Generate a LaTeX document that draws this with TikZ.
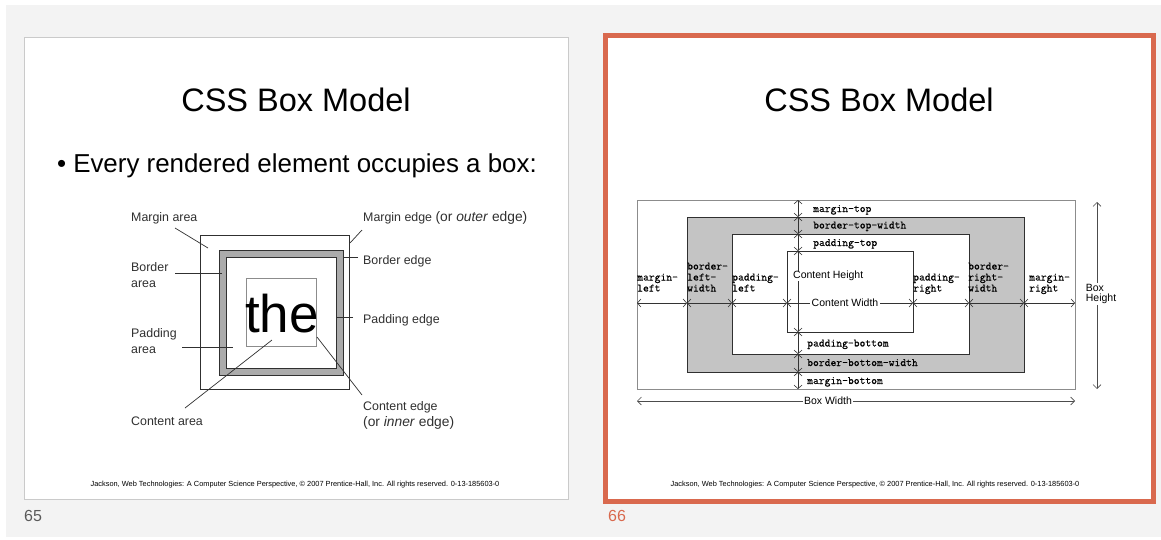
\documentclass[tikz,border=0pt]{standalone}
\usepackage{fontspec}
\setmainfont{Liberation Sans}
\newfontfamily\monofont[FakeBold=0.4]{Latin Modern Mono}
\usetikzlibrary{arrows.meta}

\definecolor{panel}{HTML}{F3F3F3}
\definecolor{slideedge}{HTML}{CACACA}
\definecolor{accent}{HTML}{D9694E}
\definecolor{pagenum}{HTML}{5A5A5A}
\definecolor{ringgray}{HTML}{ABABAB}
\definecolor{bandgray}{HTML}{C4C4C4}
\definecolor{ink}{HTML}{303030}

\newcommand{\bigparen}[1]{{\fontsize{13.8}{16}\selectfont #1}}

\begin{document}
\begin{tikzpicture}[x=1pt,y=-1pt,
  title/.style={font=\fontsize{32.5}{39}\selectfont, inner sep=0},
  footer/.style={font=\fontsize{7.4}{8}\selectfont, inner sep=0},
  pagelabel/.style={font=\fontsize{16}{18}\selectfont, anchor=west, inner sep=0},
  lbl/.style={font=\fontsize{12.4}{16}\selectfont, inner sep=0, anchor=base west, text=ink},
  lbltwo/.style={font=\fontsize{12.4}{16}\selectfont, inner sep=0, anchor=north west, align=left, text=ink},
  leader/.style={draw=ink, line width=0.7pt},
  mono/.style={font=\monofont\fontsize{11.3}{11}\selectfont, inner sep=0, anchor=base west},
  monostack/.style={font=\monofont\fontsize{11.3}{11}\selectfont, inner sep=0, anchor=north west, align=left},
  dimtext/.style={font=\fontsize{10.5}{10.5}\selectfont, fill=white, inner sep=1.5pt},
  dim/.style={draw=black!80, line width=0.6pt,
    {Straight Barb[length=3.5pt,width=8pt]}-{Straight Barb[length=3.5pt,width=8pt]}},
  dimlong/.style={draw=black!70, line width=0.6pt,
    {Straight Barb[length=4pt,width=8pt]}-{Straight Barb[length=4pt,width=8pt]}},
]
\useasboundingbox (0,0) rectangle (1161,539);
\fill[white] (0,0) rectangle (1161,539);
\fill[panel] (6,5) rectangle (1161,537);

% ---------------- slide 65 ----------------
\draw[draw=slideedge, fill=white, line width=1pt] (24.5,37.5) rectangle (568.5,499.5);
\node[title] (titleA) at (296,100) {CSS Box Model};
\node[font=\fontsize{25.9}{30}\selectfont, anchor=west, inner sep=0] (bullet) at (57,166)
  {\textbullet\hspace{7pt}Every rendered element occupies a box:};

% nested boxes
\draw[draw=ink, fill=white, line width=0.8pt] (200,235) rectangle (349,389);
\draw[draw=ink, fill=ringgray, line width=0.8pt] (219,250) rectangle (343,375);
\draw[draw=ink, fill=white, line width=0.8pt] (226,257) rectangle (336,368);
\draw[draw=black!45, fill=white, line width=0.6pt] (246,278) rectangle (316,346);
\node[font=\fontsize{53}{60}\selectfont, inner sep=0] (the) at (282,314) {the};

% labels
\node[lbl] (marea) at (131,221) {Margin area};
\node[lbl] (medge) at (363,221) {Margin edge \bigparen{(or \textit{outer} edge)}};
\node[lbl] (bedge) at (363,264) {Border edge};
\node[lbltwo] (barea) at (131,259.8) {\strut Border\\area};
\node[lbl] (pedge) at (363,323) {Padding edge};
\node[lbltwo] (parea) at (131,325.8) {\strut Padding\\area};
\node[lbl] (carea) at (131,425) {Content area};
\node[lbltwo] (cedge) at (363,398.8) {\strut Content edge\\\bigparen{(or \textit{inner} edge)}};

% leader lines
\coordinate (mareaS) at (175,228);   \coordinate (mareaT) at (208,248);
\coordinate (medgeS) at (362,230);   \coordinate (medgeT) at (350,243);
\coordinate (bedgeS) at (358,257);   \coordinate (bedgeT) at (344,257);
\coordinate (bareaS) at (175,273);   \coordinate (bareaT) at (222,273);
\coordinate (pedgeS) at (353,317);   \coordinate (pedgeT) at (337,317);
\coordinate (pareaS) at (182,347);   \coordinate (pareaT) at (233,347);
\coordinate (careaS) at (185,408);   \coordinate (careaT) at (272,340);
\coordinate (cedgeS) at (362,395);   \coordinate (cedgeT) at (317,337);
\draw[leader] (mareaS) -- (mareaT);
\draw[leader] (medgeS) -- (medgeT);
\draw[leader] (bedgeS) -- (bedgeT);
\draw[leader] (bareaS) -- (bareaT);
\draw[leader] (pedgeS) -- (pedgeT);
\draw[leader] (pareaS) -- (pareaT);
\draw[leader] (careaS) -- (careaT);
\draw[leader] (cedgeS) -- (cedgeT);

\node[footer] (footA) at (295,485) {Jackson, Web Technologies: A Computer Science Perspective, \textcopyright\ 2007 Prentice-Hall, Inc. All rights reserved. 0-13-185603-0};
\node[pagelabel, text=pagenum] (pageA) at (24,516) {65};

% ---------------- slide 66 ----------------
\draw[draw=accent, fill=white, line width=5pt] (605.5,35.5) rectangle (1153.5,501.5);
\node[title] (titleB) at (879,100) {CSS Box Model};

% box layers
\draw[draw=black!45, fill=white, line width=0.7pt] (637,200) rectangle (1075,389);
\draw[draw=ink, fill=bandgray, line width=0.8pt] (687,217) rectangle (1024,372);
\draw[draw=ink, fill=white, line width=0.8pt] (732,234) rectangle (969,354);
\draw[draw=ink, fill=white, line width=0.8pt] (787,251) rectangle (913,332);

% horizontal measurement chain
\foreach \i/\x in {0/637,1/687,2/732,3/787,4/913,5/969,6/1024,7/1075}
  \coordinate (h\i) at (\x,303);
\draw[dim] (h0) -- (h1);
\draw[dim] (h1) -- (h2);
\draw[dim] (h2) -- (h3);
\draw[dim] (h3) -- (h4);
\draw[dim] (h4) -- (h5);
\draw[dim] (h5) -- (h6);
\draw[dim] (h6) -- (h7);

% vertical measurement chain
\foreach \i/\y in {0/200,1/217,2/234,3/251,4/332,5/354,6/372,7/389}
  \coordinate (v\i) at (798,\y);
\draw[dim] (v0) -- (v1);
\draw[dim] (v1) -- (v2);
\draw[dim] (v2) -- (v3);
\draw[dim] (v3) -- (v4);
\draw[dim] (v4) -- (v5);
\draw[dim] (v5) -- (v6);
\draw[dim] (v6) -- (v7);

\node[dimtext] (cw) at (845,303) {Content Width};
\node[dimtext, anchor=west, inner sep=0.5pt] (ch) at (792.5,276) {Content Height};

% vertical band names
\node[mono] (mtop) at (813,212) {margin-top};
\node[mono] (btop) at (813,228.5) {border-top-width};
\node[mono] (ptop) at (813,246) {padding-top};
\node[mono] (pbot) at (807,346.5) {padding-bottom};
\node[mono] (bbot) at (807,366) {border-bottom-width};
\node[mono] (mbot) at (807,384) {margin-bottom};

% horizontal band names
\node[monostack] (mleft)  at (637,272.6) {\strut margin-\\left};
\node[monostack] (bleft)  at (687,261.6) {\strut border-\\left-\\width};
\node[monostack] (pleft)  at (732,272.6) {\strut padding-\\left};
\node[monostack] (pright) at (913,272.6) {\strut padding-\\right};
\node[monostack] (bright) at (968,261.6) {\strut border-\\right-\\width};
\node[monostack] (mright) at (1029,272.6) {\strut margin-\\right};

% overall dimensions
\coordinate (bw0) at (637,401);  \coordinate (bw1) at (1075,401);
\draw[dimlong] (bw0) -- (bw1);
\node[dimtext] (bw) at (828,401) {Box Width};
\coordinate (bh0) at (1097,202); \coordinate (bh1) at (1097,389);
\draw[dimlong] (bh0) -- (bh1);
\node[dimtext, align=left, inner sep=1pt] (bh) at (1101,294) {Box\\Height};

\node[footer] (footB) at (875,485) {Jackson, Web Technologies: A Computer Science Perspective, \textcopyright\ 2007 Prentice-Hall, Inc. All rights reserved. 0-13-185603-0};
\node[pagelabel, text=accent] (pageB) at (608,516) {66};
\end{tikzpicture}
\end{document}
